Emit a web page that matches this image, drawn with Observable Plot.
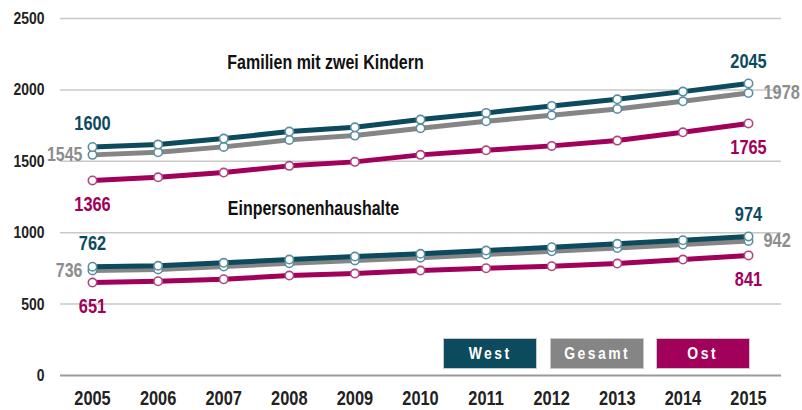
<!DOCTYPE html>
<html>
<head>
<meta charset="utf-8">
<script src="https://cdn.jsdelivr.net/npm/d3@7"></script>
<script src="https://cdn.jsdelivr.net/npm/@observablehq/plot@0.6"></script>
<style>
  html, body { margin: 0; padding: 0; background: #fff; }
  #wrap { position: relative; width: 802px; height: 410px; font-family: "Liberation Sans", Arial, sans-serif; }
  .lg { position: absolute; top: 338px; width: 92px; height: 29px; border: 1px solid #c9c9c9; color: #fff; font-weight: bold; font-size: 17px; text-align: center; line-height: 29px; }
  .lg span { display: inline-block; letter-spacing: 3px; transform: scaleX(0.82); }
</style>
</head>
<body>
<div id="wrap"></div>
<script>
const years = [2005, 2006, 2007, 2008, 2009, 2010, 2011, 2012, 2013, 2014, 2015];
const seriesNames = ["West", "Gesamt", "Ost"];
const colors = {West: "#0c4a5e", Gesamt: "#858585", Ost: "#a1005b"};
const markerStroke = {West: "#5a8ea0", Gesamt: "#5a8ea0", Ost: "#b2437f"};
const labelColors = {West: "#0c4a5e", Gesamt: "#8d8d8d", Ost: "#a1005b"};

// Familien mit zwei Kindern
const famWest   = [1600, 1617, 1659, 1708, 1738, 1792, 1839, 1888, 1934, 1988, 2045];
const famGesamt = [1545, 1563, 1601, 1650, 1680, 1731, 1780, 1822, 1867, 1920, 1978];
const famOst    = [1366, 1388, 1421, 1468, 1496, 1545, 1577, 1608, 1645, 1703, 1765];
// Einpersonenhaushalte
const einWest   = [762, 768, 789, 812, 833, 852, 875, 898, 922, 947, 974];
const einGesamt = [736, 743, 763, 786, 806, 825, 847, 870, 893, 917, 942];
const einOst    = [651, 660, 674, 700, 714, 735, 751, 765, 784, 812, 841];

const yTicks = [0, 500, 1000, 1500, 2000, 2500];
const groupTitles = ["Familien mit zwei Kindern", "Einpersonenhaushalte"];

function rows(group, name, vals) { return vals.map((v, i) => ({group, series: name, year: years[i], value: v})); }
const fam = [...rows("fam", "Ost", famOst), ...rows("fam", "Gesamt", famGesamt), ...rows("fam", "West", famWest)];
const ein = [...rows("ein", "Ost", einOst), ...rows("ein", "Gesamt", einGesamt), ...rows("ein", "West", einWest)];
const all = [...fam, ...ein];

const font = '"Liberation Sans", Arial, sans-serif';
const first = all.filter(d => d.year === years[0]);
const last = all.filter(d => d.year === years[years.length - 1]);
const sel = (arr, s) => arr.filter(d => d.series === s);

const lblStyle = {x: "year", y: "value", text: d => String(d.value), fontWeight: "bold", fontSize: 20};

const chart = Plot.plot({
  width: 802,
  height: 410,
  marginLeft: 60,
  marginRight: 21,
  marginTop: 18,
  marginBottom: 35,
  style: {fontFamily: font, background: "#fff"},
  x: {domain: [years[0], years[years.length - 1]], insetLeft: 32, insetRight: 33},
  y: {domain: [0, 2500]},
  marks: [
    Plot.ruleY(yTicks.filter(t => t > 0), {stroke: "#c8c8c8", strokeWidth: 1.5}),
    Plot.ruleY([0], {stroke: "#9a9a9a", strokeWidth: 2}),
    Plot.axisY({ticks: yTicks, tickFormat: d => String(d), tickSize: 0, tickPadding: 16, fontSize: 17, fontWeight: "bold", fill: "#222", label: null}),
    Plot.axisX({ticks: years, tickFormat: d => String(d), tickSize: 0, tickPadding: 15, fontSize: 20, fontWeight: "bold", fill: "#222", label: null}),
    Plot.line(all, {x: "year", y: "value", z: d => d.group + d.series, stroke: d => colors[d.series], strokeWidth: 5}),
    Plot.dot(all, {x: "year", y: "value", r: 4.2, fill: "white", stroke: d => markerStroke[d.series], strokeWidth: 1.6}),
    // start labels
    Plot.text(sel(first, "West"), {...lblStyle, fill: labelColors.West, dy: -23}),
    Plot.text(sel(first, "Ost"), {...lblStyle, fill: labelColors.Ost, dy: 24}),
    Plot.text(sel(first, "Gesamt"), {...lblStyle, fontSize: 19.5, fill: labelColors.Gesamt, textAnchor: "end", dx: -10}),
    // end labels
    Plot.text(sel(last, "West"), {...lblStyle, fill: labelColors.West, dy: -22}),
    Plot.text(sel(last, "Ost"), {...lblStyle, fill: labelColors.Ost, dy: 24}),
    Plot.text(sel(last, "Gesamt"), {...lblStyle, fill: labelColors.Gesamt, textAnchor: "start", dx: 15, letterSpacing: 0.5}),
    // group titles
    Plot.text([groupTitles[0]], {frameAnchor: "top-left", lineAnchor: "middle", textAnchor: "middle", dx: 265, dy: 44, text: d => d, fontWeight: "bold", fontSize: 19.5, fill: "#111"}),
    Plot.text([groupTitles[1]], {frameAnchor: "top-left", lineAnchor: "middle", textAnchor: "middle", dx: 253, dy: 190, text: d => d, fontWeight: "bold", fontSize: 19.5, fill: "#111", letterSpacing: 0.4})
  ]
});

// condensed look: squeeze each text horizontally around its own anchor
chart.querySelectorAll("text").forEach(el => {
  const x = +(el.getAttribute("x") || 0);
  const t = el.getAttribute("transform") || "";
  el.setAttribute("transform", `${t} translate(${x},0) scale(0.82,1) translate(${-x},0)`);
});

const wrap = document.getElementById("wrap");
wrap.appendChild(chart);
const legendLeft = {West: 443, Gesamt: 550, Ost: 656};
for (const s of seriesNames) {
  const b = document.createElement("div");
  b.className = "lg";
  b.style.left = legendLeft[s] + "px";
  b.style.background = colors[s];
  const sp = document.createElement("span");
  sp.textContent = s;
  b.appendChild(sp);
  wrap.appendChild(b);
}
</script>
</body>
</html>
